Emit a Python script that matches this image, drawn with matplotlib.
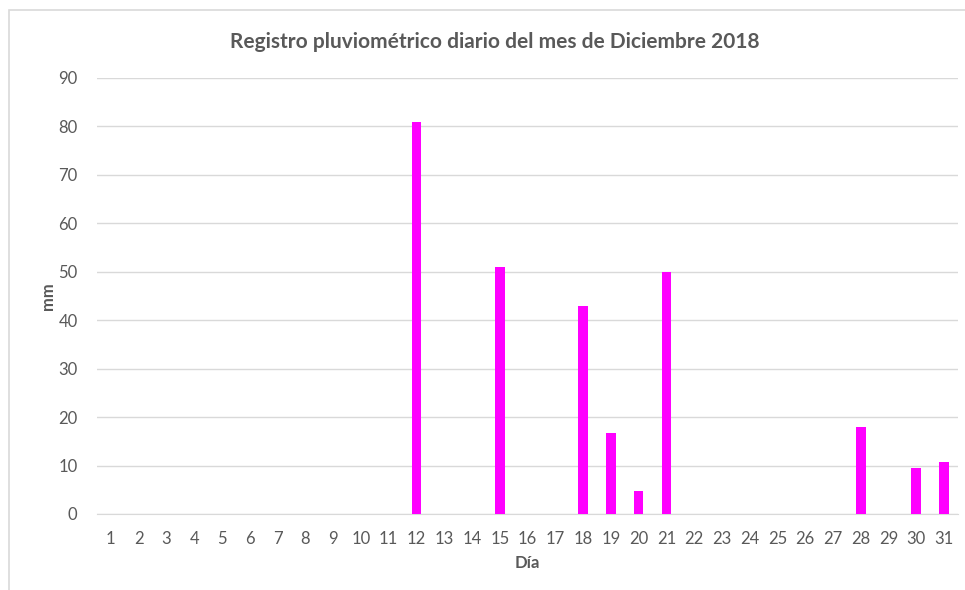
import numpy as np
import matplotlib.pyplot as plt
from matplotlib.patches import Rectangle

plt.rcParams['font.family'] = ['Lato', 'DejaVu Sans']

# daily rainfall, December 2018
dias = list(range(1, 32))
lluvia_mm = [0, 0, 0, 0, 0, 0, 0, 0, 0, 0, 0, 81, 0, 0, 51, 0, 0, 43, 16.8, 4.8,
             50, 0, 0, 0, 0, 0, 0, 18, 0, 9.5, 10.7]
y_ticks = list(range(0, 100, 10))

grey_txt = '#595959'
grid_col = '#d9d9d9'
bar_col = '#ff00ff'

fig = plt.figure(figsize=(9.65, 5.9), dpi=100)
ax = fig.add_axes([97 / 965, 1 - 514 / 590, (958 - 97) / 965, (514 - 78) / 590])

x = np.arange(len(dias))
ax.bar(x, lluvia_mm, width=0.35, color=bar_col, zorder=3)

ax.set_xlim(-0.5, len(dias) - 0.5)
ax.set_ylim(0, 90)
ax.set_yticks(y_ticks)
ax.set_xticks(x)
ax.set_xticklabels([str(d) for d in dias])
ax.tick_params(axis='both', length=0, labelsize=12, labelcolor=grey_txt)
ax.tick_params(axis='x', pad=12)
ax.tick_params(axis='y', pad=14)
ax.grid(axis='y', color=grid_col, linewidth=1, zorder=0)
for s in ['top', 'right', 'left']:
    ax.spines[s].set_visible(False)
ax.spines['bottom'].set_color(grid_col)

ax.set_xlabel('Día', fontsize=12, fontweight='bold', color=grey_txt, labelpad=6)
ax.set_ylabel('mm', fontsize=12, fontweight='bold', color=grey_txt, labelpad=2)
fig.text(495 / 965, 1 - 42 / 590, 'Registro pluviométrico diario del mes de Diciembre 2018',
         ha='center', va='center', fontsize=15, fontweight='bold', color=grey_txt)

# light chart border (right and bottom edges fall outside the picture)
fig.patches.append(Rectangle((9 / 965, -0.02), 0.995, 1 - 10 / 590 + 0.02,
                             transform=fig.transFigure, fill=False,
                             edgecolor=grid_col, linewidth=1.2))

fig.savefig('out.png', dpi=100)
